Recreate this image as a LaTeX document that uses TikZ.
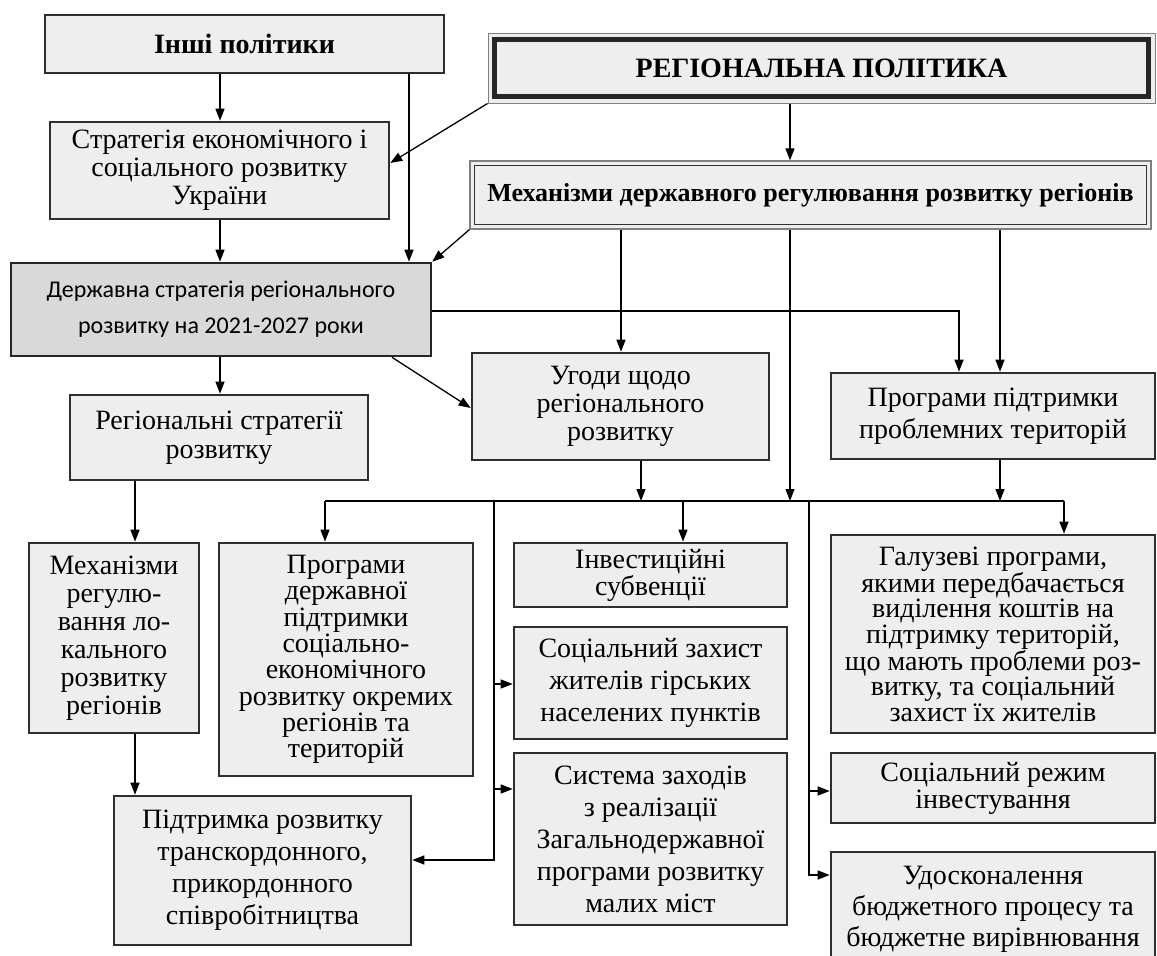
\documentclass[tikz,border=0pt]{standalone}
\usepackage{fontspec}
\setmainfont{Liberation Serif}
\newfontfamily\calfont{Carlito}
\usetikzlibrary{arrows.meta,calc}
\definecolor{boxfill}{HTML}{EEEEEE}
\definecolor{boxline}{HTML}{2E2E2E}
\definecolor{derzhfill}{HTML}{D9D9D9}
\newcommand{\fs}[2]{\fontsize{#1}{#2}\selectfont}
\begin{document}
\begin{tikzpicture}[x=1pt,y=-1pt,
  box/.style={draw=boxline, line width=2.6pt, fill=boxfill, inner sep=0pt, align=center},
  arr/.style={line width=1.3pt, -{Triangle[length=12pt,width=9pt]}},
  ln/.style={line width=1.3pt}]
\clip (0,0) rectangle (1157,956);
\fill[white] (0,0) rectangle (1157,956);

% top boxes
\node[box, minimum width=399pt, minimum height=58pt, font=\fs{28}{31}] (inshi) at (244.5,44) {\textbf{Інші політики}};
\node[box, minimum width=339pt, minimum height=97pt, font=\fs{28}{28}] (strat) at (219.5,170.5) {Стратегія економічного і\\соціального розвитку\\України};
\node[box, draw=gray, line width=1pt, minimum width=667pt, minimum height=70pt, font=\fs{28}{31}] (reg) at (821.5,68) {\textbf{РЕГІОНАЛЬНА ПОЛІТИКА}};
\draw[line width=5pt, black!85] ($(reg.north west)+(7,7)$) rectangle ($(reg.south east)+(-7,-7)$);
\node[box, draw=gray, line width=1.2pt, minimum width=681pt, minimum height=68pt, font=\fs{26}{28}] (mech) at (810.5,195) {\textbf{Механізми державного регулювання розвитку регіонів}};
\draw[line width=1.6pt, black!80] ($(mech.north west)+(5,5)$) rectangle ($(mech.south east)+(-5,-5)$);
\node[box, draw=black!85, fill=derzhfill, minimum width=420pt, minimum height=93pt, font=\calfont\fs{24}{36}] (derzh) at (221,309.5) {Державна стратегія регіонального\\розвитку на 2021-2027 роки};

% middle boxes
\node[box, minimum width=297pt, minimum height=107pt, font=\fs{28}{28}] (ugody) at (620.5,406.5) {Угоди щодо\\регіонального\\розвитку};
\node[box, minimum width=324pt, minimum height=86pt, font=\fs{28}{32}] (progpid) at (993,416) {Програми підтримки\\проблемних територій};
\node[box, minimum width=298pt, minimum height=85pt, font=\fs{28}{29}] (regstr) at (219,437.5) {Регіональні стратегії\\розвитку};

% lower boxes
\node[box, minimum width=170pt, minimum height=190pt, font=\fs{28}{28}] (mehreg) at (114,638) {Механізми\\регулю-\\вання ло-\\кального\\розвитку\\регіонів};
\node[box, minimum width=254pt, minimum height=233pt, font=\fs{28}{26.3}] (progderzh) at (346,659.5) {Програми\\державної\\підтримки\\соціально-\\економічного\\розвитку окремих\\регіонів та\\територій};
\node[box, minimum width=273pt, minimum height=64pt, font=\fs{28}{27}] (invest) at (650.5,575) {Інвестиційні\\субвенції};
\node[box, minimum width=273pt, minimum height=112pt, font=\fs{28}{32}] (soczakh) at (650.5,683) {Соціальний захист\\жителів гірських\\населених пунктів};
\node[box, minimum width=273pt, minimum height=172pt, font=\fs{28}{32}] (system) at (650.5,839) {Система заходів\\з реалізації\\Загальнодержавної\\програми розвитку\\малих міст};
\node[box, minimum width=324pt, minimum height=198pt, font=\fs{28}{25.5}] (galuz) at (993,634) {Галузеві програми,\\якими передбачається\\виділення коштів на\\підтримку територій,\\що мають проблеми роз-\\витку, та соціальний\\захист їх жителів};
\node[box, minimum width=324pt, minimum height=70pt, font=\fs{28}{27}] (socrezh) at (993,788) {Соціальний режим\\інвестування};
\node[box, minimum width=324pt, minimum height=114pt, font=\fs{28}{31}] (udos) at (993,909) {Удосконалення\\бюджетного процесу та\\бюджетне вирівнювання};
\node[box, minimum width=297pt, minimum height=149pt, font=\fs{28}{32}] (pidtr) at (262.5,870.5) {Підтримка розвитку\\транскордонного,\\прикордонного\\співробітництва};

% bus
\coordinate (busL) at (325,501);
\coordinate (busR) at (1064,501);

% connectors
\draw[arr] (220,0 |- inshi.south) -- (220,0 |- strat.north);
\draw[arr] (409,0 |- inshi.south) -- (409,0 |- derzh.north);
\draw[arr] (220,0 |- strat.south) -- (220,0 |- derzh.north);
\draw[arr] (reg.south west) -- (strat.east |- 0,163);
\draw[arr] (790,0 |- reg.south) -- (790,0 |- mech.north);
\draw[arr] (mech.south west) -- (derzh.north east);
\draw[arr] (621,0 |- mech.south) -- (621,0 |- ugody.north);
\draw[arr] (790,0 |- mech.south) -- (790,0 |- busL);
\draw[arr] (1000,0 |- mech.south) -- (1000,0 |- progpid.north);
\draw[arr] (derzh.east |- 0,311) -| (959,0 |- progpid.north);
\draw[arr] (220,0 |- derzh.south) -- (220,0 |- regstr.north);
\draw[arr] (392,0 |- derzh.south) -- (ugody.west |- 0,408);
\draw[arr] (641,0 |- ugody.south) -- (641,0 |- busL);
\draw[arr] (1000,0 |- progpid.south) -- (1000,0 |- busL);
\draw[ln] (busL) -- (busR);
\draw[arr] (busL) -- (325,0 |- progderzh.north);
\draw[arr] (683,0 |- busL) -- (683,0 |- invest.north);
\draw[arr] (busR) -- (1064,0 |- galuz.north);
\draw[arr] (494,0 |- busL) |- (pidtr.east |- 0,860);
\draw[arr] (494,684) -- (soczakh.west |- 0,684);
\draw[arr] (494,789) -- (system.west |- 0,789);
\draw[arr] (809,0 |- busL) |- (udos.west |- 0,875);
\draw[arr] (809,791) -- (socrezh.west |- 0,791);
\draw[arr] (135,0 |- regstr.south) -- (135,0 |- mehreg.north);
\draw[arr] (135,0 |- mehreg.south) -- (135,0 |- pidtr.north);
\end{tikzpicture}
\end{document}
